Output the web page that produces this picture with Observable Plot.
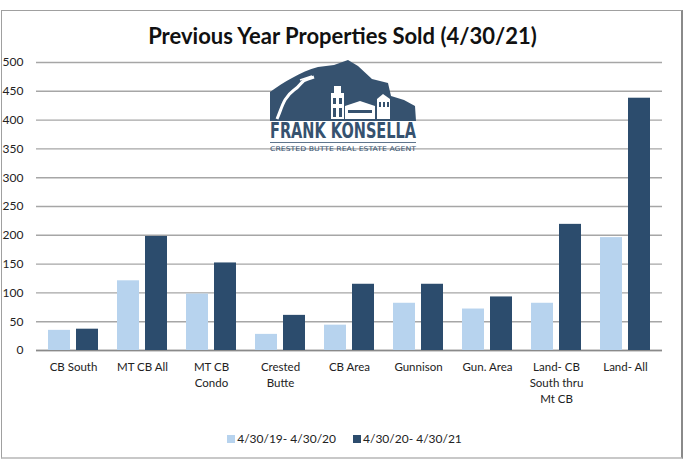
<!DOCTYPE html>
<html>
<head>
<meta charset="utf-8">
<script src="https://cdn.jsdelivr.net/npm/d3@7"></script>
<script src="https://cdn.jsdelivr.net/npm/@observablehq/plot@0.6"></script>
<style>
  html, body { margin: 0; padding: 0; background: #fff; }
  #wrap { position: relative; width: 685px; height: 470px; overflow: hidden; font-family: Lato, "Open Sans", sans-serif; }
  #frame { position: absolute; left: 1px; top: 10px; width: 682px; height: 449px; border: 1px solid #a0a0a0; border-right: 2px solid #8a8a8a; border-bottom: 2px solid #c8c8c8; box-sizing: border-box; }
  .layer { position: absolute; left: 0; top: 0; }
  #title { position: absolute; left: 0; width: 685px; top: 22px; text-align: center; font-weight: bold; font-size: 22px; color: #111; }
  #legend { position: absolute; top: 431px; left: 0; width: 685px; display: flex; justify-content: center; gap: 17px; font-size: 12px; color: #222; padding-left: 4px; box-sizing: border-box; }
  #legend span.sw { display: inline-block; width: 8px; height: 8px; margin-right: 2px; }
</style>
</head>
<body>
<div id="wrap">
  <div id="frame"></div>
  <div id="title">Previous Year Properties Sold (4/30/21)</div>
  <div id="legend"></div>
</div>
<script>
const categories = ["CB South", "MT CB All", "MT CB\nCondo", "Crested\nButte", "CB Area", "Gunnison", "Gun. Area", "Land- CB\nSouth thru\nMt CB", "Land- All"];
const periods = ["4/30/19- 4/30/20", "4/30/20- 4/30/21"];
const prevYear = [35, 121, 98, 28, 44, 82, 72, 82, 196];
const currYear = [37, 198, 152, 61, 115, 115, 93, 219, 438];
const yTicks = [0, 50, 100, 150, 200, 250, 300, 350, 400, 450, 500];
const colors = ["#b7d3ee", "#2c4c6d"];

const data = categories.flatMap((c, i) => [
  {cat: c, period: periods[0], value: prevYear[i]},
  {cat: c, period: periods[1], value: currYear[i]}
]);

const W = 685, H = 420;
const margins = {marginTop: 62, marginBottom: 70, marginLeft: 36, marginRight: 23};

// background: grid, baseline, y axis
const bg = Plot.plot({
  width: W, height: H, ...margins,
  style: {background: "transparent", fontFamily: "Lato, sans-serif", fontSize: "12px", color: "#222"},
  y: {domain: [0, 500]},
  marks: [
    Plot.gridY(yTicks, {stroke: "#a6a6a6", strokeOpacity: 1, strokeWidth: 1.4}),
    Plot.ruleY([0], {stroke: "#8a8a8a", strokeWidth: 1.5}),
    Plot.axisY(yTicks, {tickSize: 0, tickPadding: 13, label: null, fontSize: 12})
  ]
});
bg.classList.add("layer");

// logo overlay
const ns = "http://www.w3.org/2000/svg";
const logo = document.createElementNS(ns, "svg");
logo.setAttribute("width", W); logo.setAttribute("height", H);
logo.classList.add("layer");
logo.innerHTML = `
  <path d="M270,121 L270,92 C284,82 300,72 318,67 L334,65 L348,60 L358,66 L372,79 L388,83 L391,96 L404,100 L415,106 L416,121 Z" fill="#36526f"/>
  <path d="M277,119 C282,108 283,98 294,90 C302,85 300,81 308,79 L314,77" stroke="#fff" stroke-width="3" fill="none"/>
  <path d="M300,80 L312,76" stroke="#fff" stroke-width="1.5" fill="none"/>
  <rect x="331" y="93" width="13" height="26" fill="#fff"/>
  <rect x="334" y="86" width="7" height="7" fill="#fff"/>
  <rect x="333" y="98" width="3" height="6" fill="#36526f"/><rect x="339" y="98" width="3" height="6" fill="#36526f"/>
  <rect x="333" y="108" width="3" height="9" fill="#36526f"/><rect x="339" y="108" width="3" height="9" fill="#36526f"/>
  <rect x="345" y="106" width="30" height="13" fill="#fff"/>
  <path d="M345,106 L360,101 L375,106 Z" fill="#fff"/>
  <rect x="348" y="110" width="24" height="3" fill="#36526f"/>
  <rect x="377" y="99" width="13" height="20" fill="#fff"/>
  <path d="M377,99 L383,94 L390,99 Z" fill="#fff"/>
  <rect x="379" y="102" width="2" height="5" fill="#36526f"/><rect x="383" y="102" width="2" height="5" fill="#36526f"/><rect x="387" y="102" width="2" height="5" fill="#36526f"/>
  <text x="270" y="138" textLength="146" lengthAdjust="spacingAndGlyphs" font-family="DejaVu Sans" font-weight="bold" font-size="21" fill="#36526f">FRANK KONSELLA</text>
  <line x1="270" y1="142.5" x2="416" y2="142.5" stroke="#36526f" stroke-width="0.8"/>
  <text x="270" y="150.5" textLength="146" lengthAdjust="spacingAndGlyphs" font-family="DejaVu Sans" font-size="6.5" fill="#36526f">CRESTED BUTTE REAL ESTATE AGENT</text>
`;

// foreground: grouped bars
const fg = Plot.plot({
  width: W, height: H, ...margins,
  style: {background: "transparent", fontFamily: "Lato, sans-serif", fontSize: "11.5px", color: "#222"},
  fx: {domain: categories, paddingInner: 0.25, paddingOuter: 0.125, label: null},
  x: {domain: periods, paddingInner: 0.2, paddingOuter: 0, axis: null},
  y: {domain: [0, 500], axis: null},
  color: {domain: periods, range: colors},
  marks: [
    Plot.barY(data, {fx: "cat", x: "period", y: "value", fill: "period"}),
    Plot.axisFx({anchor: "bottom", tickSize: 0, tickPadding: 9, label: null, lineHeight: 1.4, fontSize: 11.5})
  ]
});
fg.classList.add("layer");

const wrap = document.getElementById("wrap");
wrap.insertBefore(bg, document.getElementById("title"));
wrap.insertBefore(logo, document.getElementById("title"));
wrap.insertBefore(fg, document.getElementById("title"));

const legend = document.getElementById("legend");
periods.forEach((p, i) => {
  const item = document.createElement("div");
  item.innerHTML = `<span class="sw" style="background:${colors[i]}"></span>${p}`;
  legend.appendChild(item);
});
</script>
</body>
</html>
